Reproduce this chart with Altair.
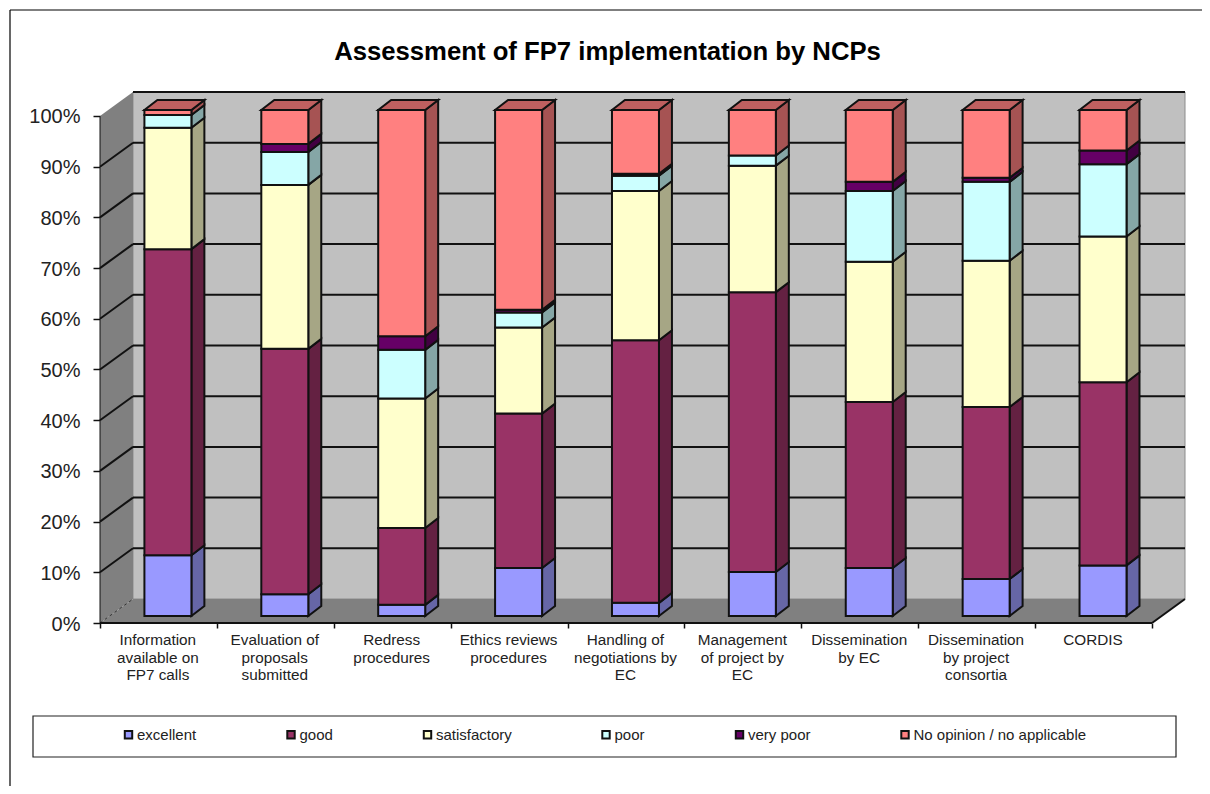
import altair as alt
import pandas as pd

categories = [
    "Information\navailable on\nFP7 calls",
    "Evaluation of\nproposals\nsubmitted",
    "Redress\nprocedures",
    "Ethics reviews\nprocedures",
    "Handling of\nnegotiations by\nEC",
    "Management\nof project by\nEC",
    "Dissemination\nby EC",
    "Dissemination\nby project\nconsortia",
    "CORDIS",
]
series = ["excellent", "good", "satisfactory", "poor", "very poor", "No opinion / no applicable"]
excellent = [12.0, 4.3, 2.2, 9.5, 2.6, 8.7, 9.5, 7.3, 10.0]
good = [60.5, 48.5, 15.2, 30.5, 51.9, 55.3, 32.8, 34.0, 36.2]
satisfactory = [24.0, 32.4, 25.6, 17.0, 29.5, 25.0, 27.7, 28.9, 28.8]
poor = [2.5, 6.5, 9.6, 3.0, 3.0, 2.0, 14.0, 15.6, 14.3]
very_poor = [0.0, 1.6, 2.7, 0.5, 0.4, 0.0, 1.8, 0.8, 2.7]
no_opinion = [1.0, 6.7, 44.7, 39.5, 12.6, 9.0, 14.2, 13.4, 8.0]
values = [excellent, good, satisfactory, poor, very_poor, no_opinion]

front_colors = ["#9999FF", "#993366", "#FFFFCC", "#CCFFFF", "#660066", "#FF8080"]
side_colors = ["#6666A6", "#642142", "#A6A685", "#85A6A6", "#420042", "#A65353"]
top_color = "#BF6060"
ticks = list(range(0, 101, 10))

# 3-D geometry, in axis units
WALL_DX, WALL_DY = 0.2823, 4.73
BAR_L, BAR_W = 0.38, 0.402
BAR_DX, BAR_DY = 0.111, 1.97
BAR_Y0 = 1.38
BAR_K = 0.998
LW = 2
INK = "#111111"

xs = alt.Scale(domain=[0, 9 + WALL_DX], nice=False, zero=False)
ys = alt.Scale(domain=[0, 100 + WALL_DY], nice=False, zero=False)


def X(f="x"):
    return alt.X(f"{f}:Q", scale=xs, axis=None)


def Y(f="y"):
    return alt.Y(f"{f}:Q", scale=ys, axis=None, stack=None)


fronts, sides, tops = [], [], []
for i in range(len(categories)):
    xl, xr = i + BAR_L, i + BAR_L + BAR_W
    cum = BAR_Y0
    for s, name in enumerate(series):
        v = values[s][i] * BAR_K
        if v > 0:
            lo, hi = cum, cum + v
            fronts.append(dict(x=xl, x2=xr, y=lo, y2=hi, series=name))
            sid = f"{i}-{s}"
            sides.append(dict(id=sid, x=xr, y=lo, y2=hi, shade=side_colors[s]))
            sides.append(dict(id=sid, x=xr + BAR_DX, y=lo + BAR_DY, y2=hi + BAR_DY, shade=side_colors[s]))
            cum = hi
    t = cum
    tops += [
        dict(id=i, x=xl, y=t, y2=t),
        dict(id=i, x=xl + BAR_DX, y=t, y2=t + BAR_DY),
        dict(id=i, x=xr, y=t, y2=t + BAR_DY),
        dict(id=i, x=xr + BAR_DX, y=t + BAR_DY, y2=t + BAR_DY),
    ]

# base layer: axes only
axes = alt.Chart(pd.DataFrame({"x": [0], "y": [0]})).mark_point(opacity=0).encode(
    x=alt.X("x:Q", scale=xs, title=None, axis=alt.Axis(
        values=list(range(10)), labels=False, domain=False, grid=False,
        tickSize=5, tickColor=INK, tickWidth=1.5)),
    y=alt.Y("y:Q", scale=ys, title=None, axis=alt.Axis(
        values=ticks, labelExpr="datum.value + '%'", domain=False, grid=False,
        tickSize=7, tickColor=INK, tickWidth=1.5, labelFontSize=20, labelFont="Liberation Sans",
        labelColor="#222222", labelPadding=13, labelOffset=1)),
)

wall_fill = "#C0C0C0"
dark_fill = "#808080"
back = alt.Chart(pd.DataFrame([dict(x=WALL_DX, x2=9 + WALL_DX, y=WALL_DY, y2=100 + WALL_DY)])).mark_rect(
    fill=wall_fill, stroke="#8c8c8c", strokeWidth=1).encode(x=X(), x2="x2:Q", y=Y(), y2="y2:Q")
left = alt.Chart(pd.DataFrame([dict(x=0, y=0, y2=100), dict(x=WALL_DX, y=WALL_DY, y2=100 + WALL_DY)])).mark_area(
    fill=dark_fill, opacity=1).encode(x=X(), y=Y(), y2="y2:Q")
floor = alt.Chart(pd.DataFrame([
    dict(x=0, y=0, y2=0), dict(x=WALL_DX, y=0, y2=WALL_DY),
    dict(x=9, y=0, y2=WALL_DY), dict(x=9 + WALL_DX, y=WALL_DY, y2=WALL_DY)])).mark_area(
    fill=dark_fill, opacity=1).encode(x=X(), y=Y(), y2="y2:Q")

grid_back = alt.Chart(pd.DataFrame([dict(x=WALL_DX, x2=9 + WALL_DX, y=t + WALL_DY) for t in ticks[1:]])).mark_rule(
    color=INK, strokeWidth=LW).encode(x=X(), x2="x2:Q", y=Y())
grid_left_rows = []
for t in ticks[1:-1]:
    grid_left_rows += [dict(id=t, x=0, y=t), dict(id=t, x=WALL_DX, y=t + WALL_DY)]
grid_left = alt.Chart(pd.DataFrame(grid_left_rows)).mark_line(stroke=INK, strokeWidth=LW, opacity=1).encode(
    x=X(), y=Y(), detail="id:N")
zero_diag = alt.Chart(pd.DataFrame([dict(x=0, y=0), dict(x=WALL_DX, y=WALL_DY)])).mark_line(
    color="#333333", strokeWidth=1, strokeDash=[3, 3]).encode(x=X(), y=Y())
right_diag = alt.Chart(pd.DataFrame([dict(x=9, y=0), dict(x=9 + WALL_DX, y=WALL_DY)])).mark_line(
    color=INK, strokeWidth=LW).encode(x=X(), y=Y())
base_line = alt.Chart(pd.DataFrame([dict(x=0, y=0), dict(x=9, y=0)])).mark_line(
    color=INK, strokeWidth=LW).encode(x=X(), y=Y())
left_line = alt.Chart(pd.DataFrame([dict(x=0, y=0), dict(x=0, y=100)])).mark_line(
    color=INK, strokeWidth=1, orient="vertical").encode(x=X(), y=Y())

side = alt.Chart(pd.DataFrame(sides)).mark_area(stroke=INK, strokeWidth=LW, opacity=1).encode(
    x=X(), y=Y(), y2="y2:Q", fill=alt.Fill("shade:N", scale=None), detail="id:N")
top = alt.Chart(pd.DataFrame(tops)).mark_area(fill=top_color, stroke=INK, strokeWidth=LW, opacity=1).encode(
    x=X(), y=Y(), y2="y2:Q", detail="id:N")

frame_top = alt.Chart(pd.DataFrame({"a": [0]})).mark_rule(color="#000000", strokeWidth=1.2, clip=False).encode(
    x=alt.value(-90), x2=alt.value(1110), y=alt.value(-82))
frame_left = alt.Chart(pd.DataFrame({"a": [0]})).mark_rule(color="#000000", strokeWidth=1.2, clip=False).encode(
    x=alt.value(-90), y=alt.value(-82), y2=alt.value(702))
legend_box = alt.Chart(pd.DataFrame({"a": [0]})).mark_rect(fill="white", stroke="#222222", strokeWidth=1.2).encode(
    x=alt.value(-67), x2=alt.value(1076), y=alt.value(624), y2=alt.value(665))

front = alt.Chart(pd.DataFrame(fronts)).mark_rect(stroke=INK, strokeWidth=LW).encode(
    x=X(), x2="x2:Q", y=Y(), y2="y2:Q",
    fill=alt.Fill("series:N", scale=alt.Scale(domain=series, range=front_colors), sort=series,
                  legend=alt.Legend(
                      title=None, orient="none", legendX=21, legendY=635, direction="horizontal",
                      columns=6, columnPadding=85.5, symbolType="square", symbolSize=55,
                      symbolStrokeColor=INK, symbolStrokeWidth=2, labelFontSize=15, labelLimit=400,
                      labelFont="Liberation Sans", labelColor="#222222", labelOffset=1)),
)

labels = alt.Chart(pd.DataFrame({"x": [i + 0.495 for i in range(len(categories))], "t": categories})).mark_text(
    font="Liberation Sans", fontSize=15.3, color="#222222", baseline="top", align="center",
    lineBreak="\n", lineHeight=17.5).encode(x=X(), y=alt.value(541), text="t:N")

chart = alt.layer(
    axes, frame_top, frame_left, back, left, floor, grid_back, grid_left, zero_diag, right_diag,
    base_line, left_line, side, top, front, labels, legend_box,
).resolve_axis(x="independent", y="independent").properties(
    width=1085, height=531,
    title=alt.TitleParams("Assessment of FP7 implementation by NCPs", fontSize=25.7, font="Liberation Sans",
                          fontWeight="bold", color="#000000", anchor="middle", dx=-35, offset=-56),
    padding={"left": 92, "top": 84, "right": 17, "bottom": 163},
    autosize=alt.AutoSizeParams(type="none"),
).configure_view(stroke=None)

chart.save("out.html", embed_options={"renderer": "svg", "actions": False})
